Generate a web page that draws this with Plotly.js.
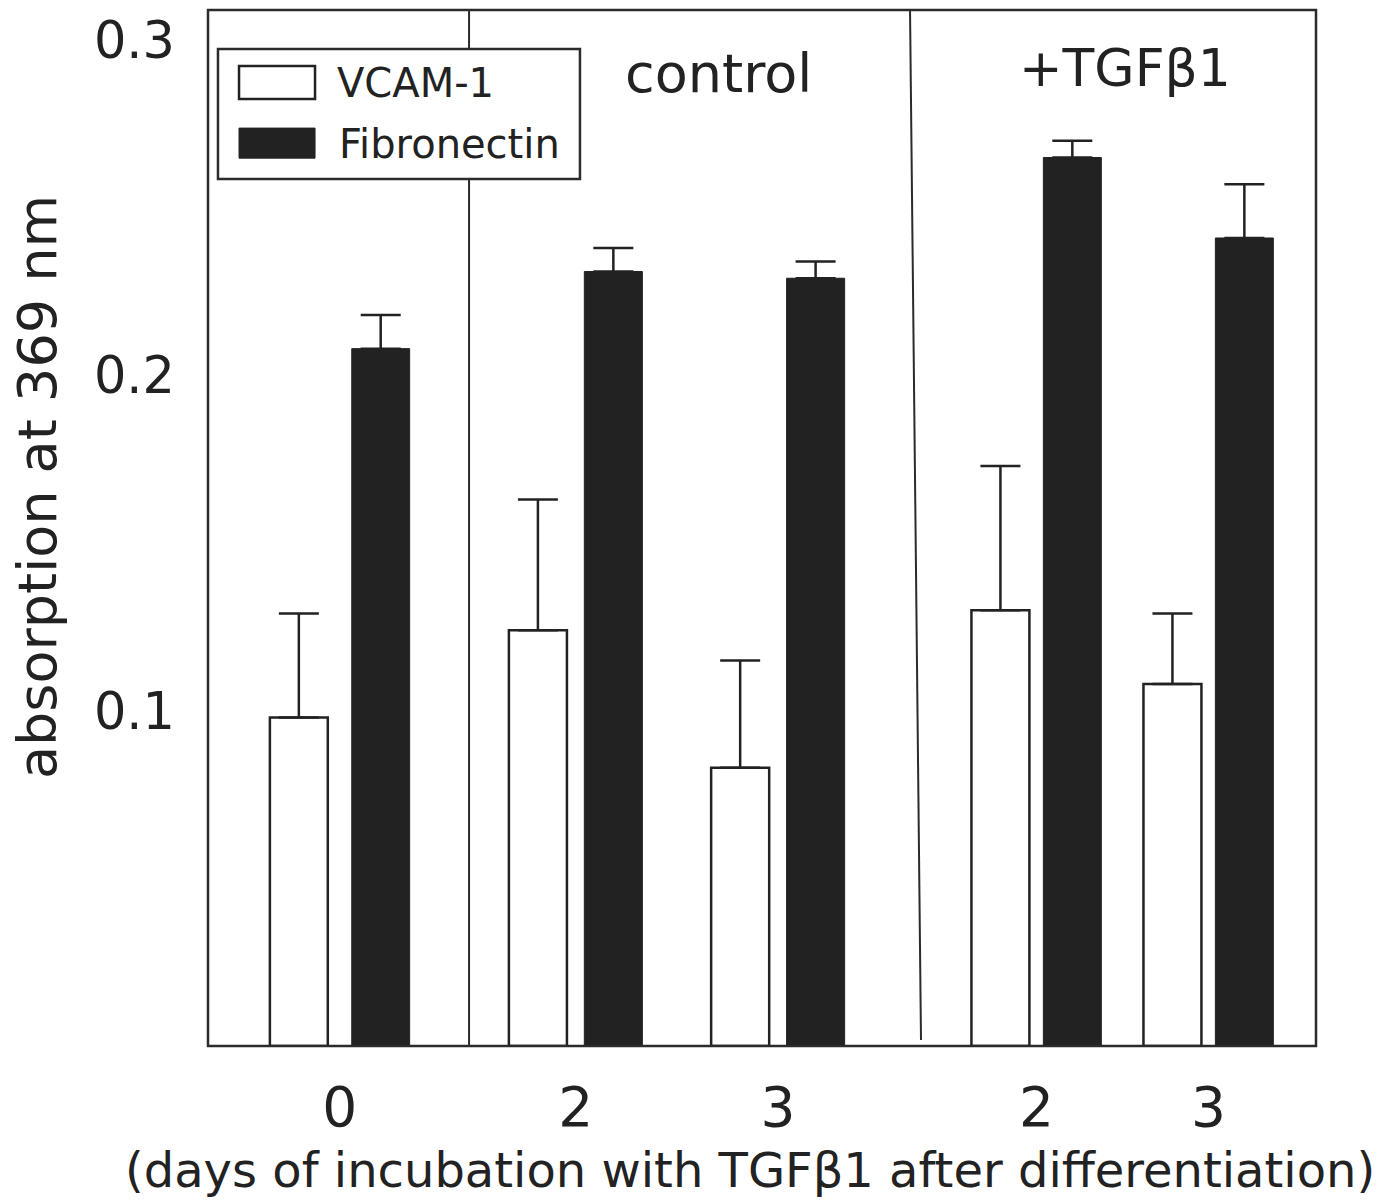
<!DOCTYPE html>
<html>
<head>
<meta charset="utf-8">
<script src="https://cdn.plot.ly/plotly-3.0.1.min.js"></script>
<style>
html, body { margin: 0; padding: 0; background: #ffffff; }
#chart { width: 1387px; height: 1202px; }
</style>
</head>
<body>
<div id="chart"></div>
<script>
// ---------- data ----------
const days = ['0', '2', '3', '2', '3'];
const panelIndex = [0, 1, 1, 2, 2];
const panelNames = ['', 'control', '+TGFβ1'];
const seriesNames = ['VCAM-1', 'Fibronectin'];
const vcam = [0.098, 0.124, 0.083, 0.130, 0.108];
const vcamErr = [0.031, 0.039, 0.032, 0.043, 0.021];
const fibronectin = [0.208, 0.231, 0.229, 0.265, 0.241];
const fibronectinErr = [0.010, 0.007, 0.005, 0.005, 0.016];
const yTickVals = [0.1, 0.2, 0.3];
const yTickText = ['0.1', '0.2', '0.3'];
const xTitle = '(days of incubation with TGFβ1 after differentiation)';
const yTitle = 'absorption at 369 nm';

// ---------- layout / style ----------
const FONT = 'DejaVu Sans, Liberation Sans, sans-serif';
const INK = '#222222';
const panelDomains = [[0, 0.2356], [0.2356, 0.6381], [0.6381, 1]];
const panelRanges = [[-0.66, 0.6475], [-0.527, 1.678], [-0.706, 1.625]];
const barWidths = [0.29, 0.287, 0.337];
const barOffsets = [[-0.35, 0.06], [-0.33, 0.043], [-0.378, 0.04]];
const axisIds = ['x', 'x2', 'x3'];

const series = [
  { name: seriesNames[0], vals: vcam, err: vcamErr, fill: '#ffffff', lw: 2.5 },
  { name: seriesNames[1], vals: fibronectin, err: fibronectinErr, fill: INK, lw: 1 }
];

const traces = [];
panelDomains.forEach((dom, p) => {
  const idx = days.map((d, i) => i).filter(i => panelIndex[i] === p);
  series.forEach((s, k) => {
    traces.push({
      type: 'bar',
      name: s.name,
      showlegend: false,
      xaxis: axisIds[p],
      yaxis: 'y',
      x: idx.map(i => days[i]),
      y: idx.map(i => s.vals[i]),
      width: barWidths[p],
      offset: barOffsets[p][k],
      marker: { color: s.fill, line: { color: INK, width: s.lw } },
      error_y: {
        type: 'data', symmetric: false,
        array: idx.map(i => s.err[i]),
        arrayminus: idx.map(() => 0),
        color: INK, thickness: 2.5, width: 20
      },
      hoverinfo: 'skip'
    });
  });
});

const layout = {
  width: 1387, height: 1202,
  margin: { l: 208, r: 71, t: 10, b: 156 },
  paper_bgcolor: '#ffffff', plot_bgcolor: '#ffffff',
  barmode: 'overlay',
  showlegend: false,
  font: { family: FONT, color: INK },
  yaxis: {
    anchor: 'x', domain: [0, 1], range: [0, 0.309],
    tickvals: yTickVals, ticktext: yTickText,
    ticks: '', showgrid: false, zeroline: false, showline: false,
    tickfont: { family: FONT, size: 51, color: INK },
    ticklabelstandoff: 32
  },
  shapes: [
    { type: 'rect', xref: 'paper', yref: 'paper', x0: 0, x1: 1, y0: 0, y1: 1,
      line: { color: '#2b2b2b', width: 2.5 }, layer: 'above' },
    { type: 'line', xref: 'paper', yref: 'paper', x0: 0.2356, x1: 0.2356, y0: 0, y1: 1,
      line: { color: '#2b2b2b', width: 2 }, layer: 'above' },
    { type: 'line', xref: 'paper', yref: 'paper', x0: 0.6336, x1: 0.6435, y0: 1, y1: 0.0058,
      line: { color: '#2b2b2b', width: 2 }, layer: 'above' },
    // legend box
    { type: 'rect', xref: 'paper', yref: 'paper', x0: 0.009, x1: 0.3357, y0: 0.8369, y1: 0.9624,
      fillcolor: '#ffffff', line: { color: '#2b2b2b', width: 2.5 }, layer: 'above' },
    { type: 'rect', xref: 'paper', yref: 'paper', x0: 0.028, x1: 0.0966, y0: 0.914, y1: 0.946,
      fillcolor: series[0].fill, line: { color: INK, width: 2.5 }, layer: 'above' },
    { type: 'rect', xref: 'paper', yref: 'paper', x0: 0.028, x1: 0.0966, y0: 0.857, y1: 0.886,
      fillcolor: series[1].fill, line: { color: INK, width: 1 }, layer: 'above' }
  ],
  annotations: [
    { text: panelNames[1], xref: 'paper', yref: 'paper', x: 0.461, y: 0.939,
      xanchor: 'center', yanchor: 'middle', showarrow: false,
      font: { family: FONT, size: 54, color: INK } },
    { text: panelNames[2], xref: 'paper', yref: 'paper', x: 0.828, y: 0.944,
      xanchor: 'center', yanchor: 'middle', showarrow: false,
      font: { family: FONT, size: 52, color: INK } },
    { text: seriesNames[0], xref: 'paper', yref: 'paper', x: 0.1146, y: 0.930,
      xanchor: 'left', yanchor: 'middle', showarrow: false,
      font: { family: FONT, size: 40, color: INK } },
    { text: seriesNames[1], xref: 'paper', yref: 'paper', x: 0.1165, y: 0.871,
      xanchor: 'left', yanchor: 'middle', showarrow: false,
      font: { family: FONT, size: 40, color: INK } },
    { text: xTitle, xref: 'paper', yref: 'paper', x: 0.489, y: -0.1197,
      xanchor: 'center', yanchor: 'middle', showarrow: false,
      font: { family: FONT, size: 48, color: INK } },
    { text: yTitle, xref: 'paper', yref: 'paper', x: -0.1534, y: 0.5396,
      xanchor: 'center', yanchor: 'middle', showarrow: false, textangle: -90,
      font: { family: FONT, size: 54, color: INK } }
  ]
};

panelDomains.forEach((dom, p) => {
  const key = p === 0 ? 'xaxis' : 'xaxis' + (p + 1);
  layout[key] = {
    type: 'category', anchor: 'y', domain: dom, range: panelRanges[p],
    ticks: '', showgrid: false, zeroline: false, showline: false,
    tickfont: { family: FONT, size: 55, color: INK },
    ticklabelstandoff: 24
  };
});

Plotly.newPlot('chart', traces, layout, { displayModeBar: false, staticPlot: true });
</script>
</body>
</html>
